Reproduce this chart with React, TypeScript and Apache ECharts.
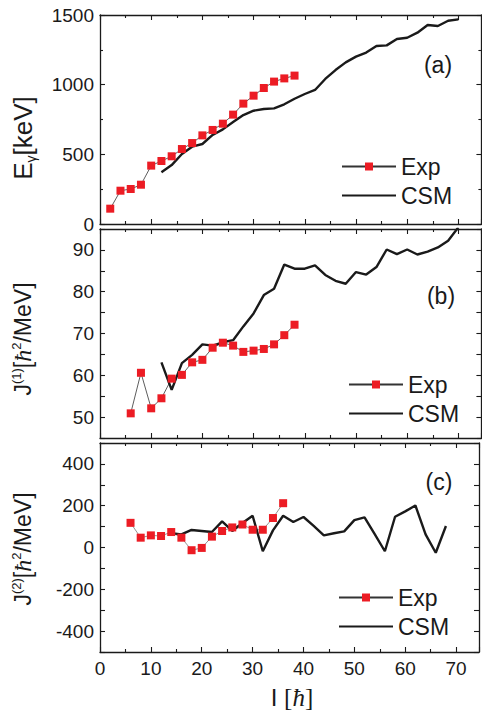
import React, { useEffect, useRef } from "react";
import * as echarts from "echarts";

// Spin values (I in units of hbar)
const expSpinA = [2, 4, 6, 8, 10, 12, 14, 16, 18, 20, 22, 24, 26, 28, 30, 32, 34, 36, 38];
const csmSpin = [12, 14, 16, 18, 20, 22, 24, 26, 28, 30, 32, 34, 36, 38, 40, 42, 44, 46, 48, 50, 52, 54, 56, 58, 60, 62, 64, 66, 68, 70];
const expSpinB = [6, 8, 10, 12, 14, 16, 18, 20, 22, 24, 26, 28, 30, 32, 34, 36, 38];
const expSpinC = [6, 8, 10, 12, 14, 16, 18, 20, 22, 24, 26, 28, 30, 32, 34, 36];
const csmSpinC = [14, 16, 18, 20, 22, 24, 26, 28, 30, 32, 34, 36, 38, 40, 42, 44, 46, 48, 50, 52, 54, 56, 58, 60, 62, 64, 66, 68];

// (a) transition energies, keV
const expEgamma = [110, 239, 251, 282, 419, 452, 486, 538, 581, 636, 675, 720, 785, 864, 921, 976, 1022, 1045, 1065];
const csmEgamma = [371, 423, 502, 555, 574, 639, 679, 732, 782, 813, 825, 830, 859, 899, 933, 962, 1041, 1105, 1160, 1201, 1230, 1278, 1282, 1328, 1337, 1373, 1428, 1421, 1459, 1469];

// (b) kinematic moment of inertia J(1)
const expJ1 = [50.9, 60.6, 52.1, 54.5, 59.2, 60.1, 63.1, 63.7, 66.6, 67.8, 67.1, 65.6, 65.9, 66.3, 67.4, 69.6, 72.1];
const csmJ1 = [63.1, 56.5, 62.9, 64.9, 67.4, 67.1, 67.9, 68.4, 71.7, 74.8, 79.2, 80.7, 86.5, 85.5, 85.5, 86.3, 84.0, 82.6, 81.9, 84.7, 84.1, 85.9, 90.1, 89.0, 90.1, 88.9, 89.6, 90.6, 92.2, 95.4];

// (c) dynamic moment of inertia J(2)
const expJ2 = [118, 47, 58, 55, 74, 47, -13, -2, 52, 79, 96, 110, 85, 85, 141, 212];
const csmJ2 = [69, 63, 84, 79, 74, 125, 79, 117, 152, -18, 82, 152, 122, 146, 103, 58, 68, 77, 131, 144, 64, -18, 147, 173, 201, 63, -25, 103];

const xTickLabels = ["0", "10", "20", "30", "40", "50", "60", "70"];

const SANS = "'Liberation Sans', Arial, Helvetica, sans-serif";
const SERIF = "'Liberation Serif', 'Times New Roman', serif";
const INK = "#1a1a1a";
const RED = "#ec1c24";

const zip = (xs: number[], ys: number[]) => xs.map((x, i) => [x, ys[i]]);

const GRID_TOPS = [15, 229, 443];
const GRID_H = 209;

const frame = { show: true, onZero: false, lineStyle: { color: INK, width: 1.3 } };
const tick = (len: number) => ({ show: true, inside: true, length: len, lineStyle: { color: INK, width: 1.1 } });

function xAxes(i: number) {
  const base = {
    type: "value" as const,
    gridIndex: i,
    min: 0,
    max: 74.5,
    interval: 10,
    axisLine: frame,
    axisTick: tick(5),
    minorTick: { show: true, splitNumber: 2, length: 3, lineStyle: { color: INK, width: 1.1 } },
    splitLine: { show: false },
    minorSplitLine: { show: false },
  };
  return [
    {
      ...base,
      position: "bottom",
      axisLabel: {
        show: i === 2,
        margin: 7,
        fontSize: 19,
        fontFamily: SANS,
        color: INK,
        formatter: (v: number) => (xTickLabels.includes(String(v)) ? String(v) : ""),
      },
    },
    { ...base, position: "top", axisLabel: { show: false } },
  ];
}

function yAxes(i: number, min: number, max: number, interval: number, minor: boolean, shown: (v: number) => boolean) {
  const base = {
    type: "value" as const,
    gridIndex: i,
    min,
    max,
    interval,
    axisLine: frame,
    axisTick: tick(5),
    minorTick: { show: minor, splitNumber: 2, length: 3, lineStyle: { color: INK, width: 1.1 } },
    splitLine: { show: false },
    minorSplitLine: { show: false },
  };
  return [
    {
      ...base,
      position: "left",
      axisLabel: {
        show: true,
        margin: 6,
        fontSize: 19,
        fontFamily: SANS,
        color: INK,
        formatter: (v: number) => (shown(v) ? String(v) : ""),
      },
    },
    { ...base, position: "right", axisLabel: { show: false } },
  ];
}

function expSeries(i: number, data: number[][], lineColor: string) {
  return {
    name: "Exp",
    type: "line",
    xAxisIndex: i * 2,
    yAxisIndex: i * 2,
    data,
    symbol: "rect",
    symbolSize: 8,
    itemStyle: { color: RED },
    lineStyle: { color: lineColor, width: 0.8 },
  };
}

function csmSeries(i: number, data: number[][]) {
  return {
    name: "CSM",
    type: "line",
    xAxisIndex: i * 2,
    yAxisIndex: i * 2,
    data,
    symbol: "none",
    itemStyle: { color: INK },
    lineStyle: { color: INK, width: 2.4 },
  };
}

function legendAt(left: number, top: number) {
  return {
    // the CSM entry is a bare line: its marker is made transparent
    data: [{ name: "Exp" }, { name: "CSM", itemStyle: { opacity: 0 } }],
    orient: "vertical",
    left,
    top,
    padding: 0,
    itemWidth: 54,
    itemHeight: 10,
    itemGap: 6,
    selectedMode: false,
    textStyle: { fontSize: 23, lineHeight: 23, fontFamily: SANS, color: INK },
  };
}

function titleRich(size: number) {
  return {
    n: { fontSize: size, lineHeight: size + 4, fontFamily: SANS, fill: INK },
    s: { fontSize: Math.round(size * 0.55), lineHeight: 12, fontFamily: SANS, fill: INK, verticalAlign: "bottom" },
    sup: { fontSize: Math.round(size * 0.58), lineHeight: 12, fontFamily: SANS, fill: INK, verticalAlign: "top" },
    h: { fontSize: size + 1, lineHeight: size + 4, fontFamily: SERIF, fontStyle: "italic", fill: INK },
    b: { fontSize: size + 1, lineHeight: size + 4, fontFamily: SERIF, fill: INK },
  };
}

function panelLabel(text: string, x: number, y: number) {
  return {
    type: "text",
    x,
    y,
    style: { text, fontSize: 23, fontFamily: SANS, fill: INK, align: "center", verticalAlign: "middle" },
  };
}

function yTitle(text: string, x: number, y: number, size: number) {
  return {
    type: "text",
    x,
    y,
    rotation: Math.PI / 2,
    style: { text, rich: titleRich(size), fill: INK, align: "center", verticalAlign: "middle" },
  };
}

export default function App() {
  const ref = useRef<HTMLDivElement>(null);

  useEffect(() => {
    document.body.style.margin = "0";
    if (!ref.current) return;
    const chart = echarts.init(ref.current, undefined, { renderer: "svg" });

    const option = {
      animation: false,
      backgroundColor: "#ffffff",
      grid: GRID_TOPS.map((top) => ({ left: 100, top, width: 381.4, height: GRID_H, containLabel: false })),
      xAxis: [...xAxes(0), ...xAxes(1), ...xAxes(2)],
      yAxis: [
        ...yAxes(0, 0, 1500, 500, true, (v) => v % 500 === 0),
        ...yAxes(1, 45, 95, 5, false, (v) => v % 10 === 0 && v >= 50 && v <= 90),
        ...yAxes(2, -500, 500, 100, false, (v) => v % 200 === 0 && Math.abs(v) <= 400),
      ],
      legend: [legendAt(341, 155), legendAt(348, 373), legendAt(338, 586)],
      series: [
        expSeries(0, zip(expSpinA, expEgamma), "#333333"),
        csmSeries(0, zip(csmSpin, csmEgamma)),
        expSeries(1, zip(expSpinB, expJ1), "#333333"),
        csmSeries(1, zip(csmSpin, csmJ1)),
        expSeries(2, zip(expSpinC, expJ2), "#777777"),
        csmSeries(2, zip(csmSpinC, csmJ2)),
      ],
      graphic: [
        panelLabel("(a)", 438, 65),
        panelLabel("(b)", 441, 296),
        panelLabel("(c)", 439, 482),
        yTitle("{n|E}{s|γ}{n|[keV]}", 23, 138, 26),
        yTitle("{n|J}{sup|(1)}{n|[}{h|ħ}{sup|2}{n|/MeV]}", 23, 339, 23),
        yTitle("{n|J}{sup|(2)}{n|[}{h|ħ}{sup|2}{n|/MeV]}", 23, 549, 23),
        {
          type: "text",
          x: 292,
          y: 697,
          style: { text: "{n|I }{b|[}{h|ħ}{b|]}", rich: titleRich(24), fill: INK, align: "center", verticalAlign: "middle" },
        },
      ],
    };

    chart.setOption(option as any);
    return () => chart.dispose();
  }, []);

  return (
    <div
      ref={ref}
      style={{ position: "absolute", left: 0, top: 0, width: 482, height: 711, background: "#fff" }}
    />
  );
}
